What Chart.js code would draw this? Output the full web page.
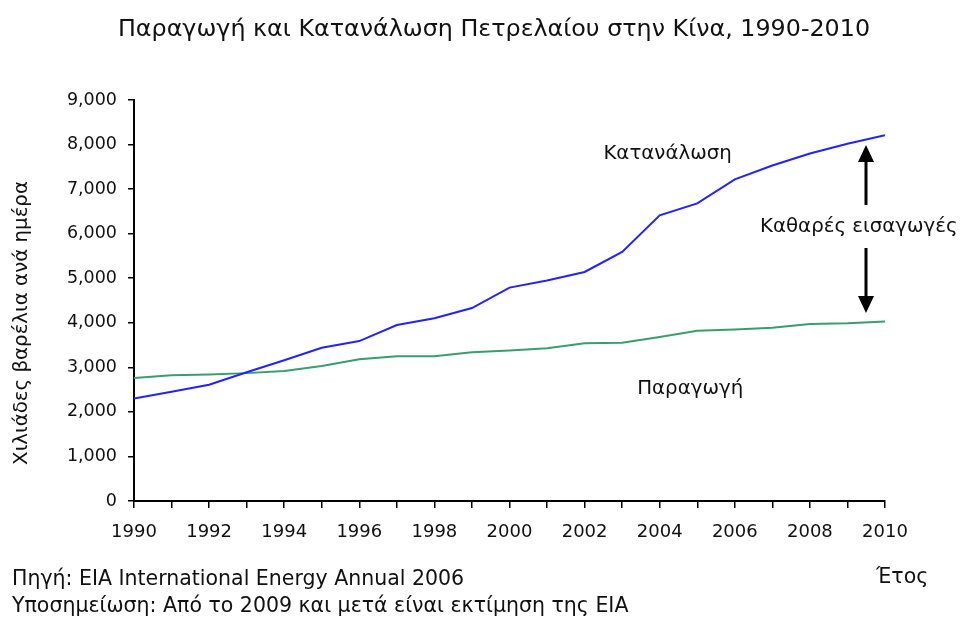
<!DOCTYPE html>
<html>
<head>
<meta charset="utf-8">
<script src="https://cdn.jsdelivr.net/npm/chart.js@4.4.1/dist/chart.umd.min.js"></script>
<style>
  html, body { margin: 0; padding: 0; background: #fff; }
  #wrap { width: 964px; height: 620px; }
</style>
</head>
<body>
<div id="wrap"><canvas id="oilChart" width="964" height="620"></canvas></div>
<script>
// years on the x axis
const years = [1990, 1991, 1992, 1993, 1994, 1995, 1996, 1997, 1998, 1999, 2000,
    2001, 2002, 2003, 2004, 2005, 2006, 2007, 2008, 2009, 2010];
// thousand barrels per day
const consumption = [2300, 2450, 2610, 2890, 3160, 3440, 3590, 3950, 4100, 4330, 4790,
    4950, 5140, 5590, 6410, 6680, 7220, 7530, 7800, 8020, 8210];
const production = [2760, 2820, 2840, 2870, 2920, 3030, 3180, 3250, 3250, 3340, 3380,
    3430, 3540, 3550, 3680, 3820, 3850, 3890, 3970, 3990, 4030];
const yTicks = [0, 1000, 2000, 3000, 4000, 5000, 6000, 7000, 8000, 9000];

const seriesColor = {
    blue: 'rgb(34, 34, 255)',
    green: 'rgb(56, 158, 108)'
}
const font = 'DejaVu Sans';

// titles, labels and the arrow, drawn on top of the chart
const textPlugin = {
    id: 'texts',
    afterDraw: function (chart) {
        const ctx = chart.ctx;
        const x = chart.scales.x, y = chart.scales.y;
        ctx.save();
        ctx.fillStyle = '#111';
        ctx.textBaseline = 'middle';

        ctx.font = '23.8px "' + font + '"';
        ctx.textAlign = 'center';
        ctx.fillText('Παραγωγή και Κατανάλωση Πετρελαίου στην Κίνα, 1990-2010', 494, 30);

        ctx.font = '19.8px "' + font + '"';
        ctx.textAlign = 'left';
        ctx.fillText('Κατανάλωση', x.getPixelForValue(2002.5), 154);
        ctx.fillText('Παραγωγή', x.getPixelForValue(2003.4), 389);
        ctx.fillText('Καθαρές εισαγωγές', 760, 227);

        // y axis title
        ctx.save();
        ctx.translate(22, 323);
        ctx.rotate(-Math.PI / 2);
        ctx.textAlign = 'center';
        ctx.fillText('Χιλιάδες βαρέλια ανά ημέρα', 0, 0);
        ctx.restore();

        // footer
        ctx.font = '20.5px "' + font + '"';
        ctx.textAlign = 'left';
        ctx.fillText('Πηγή: EIA International Energy Annual 2006', 12, 580);
        ctx.fillText('Υποσημείωση: Από το 2009 και μετά είναι εκτίμηση της EIA', 12, 607);
        ctx.fillText('Έτος', 876, 578);

        // double arrow between the two lines
        const ax = 866;
        const top = 145, upEnd = 205;
        const bottom = 313, downStart = 248;
        ctx.strokeStyle = '#000';
        ctx.fillStyle = '#000';
        ctx.lineWidth = 3;
        ctx.beginPath();
        ctx.moveTo(ax, upEnd); ctx.lineTo(ax, top + 12);
        ctx.moveTo(ax, downStart); ctx.lineTo(ax, bottom - 12);
        ctx.stroke();
        ctx.beginPath();
        ctx.moveTo(ax, top); ctx.lineTo(ax - 8, top + 17); ctx.lineTo(ax + 8, top + 17); ctx.closePath();
        ctx.moveTo(ax, bottom); ctx.lineTo(ax - 8, bottom - 17); ctx.lineTo(ax + 8, bottom - 17); ctx.closePath();
        ctx.fill();
        ctx.restore();
    }
};

new Chart(document.getElementById('oilChart'), {
    type: 'line',
    data: {
        datasets: [{
            label: 'Κατανάλωση',
            data: years.map((yr, i) => ({ x: yr, y: consumption[i] })),
            borderColor: seriesColor.blue,
            borderWidth: 2,
            pointRadius: 0,
            tension: 0
        }, {
            label: 'Παραγωγή',
            data: years.map((yr, i) => ({ x: yr, y: production[i] })),
            borderColor: seriesColor.green,
            borderWidth: 2,
            pointRadius: 0,
            tension: 0
        }]
    },
    options: {
        responsive: false,
        animation: false,
        layout: { padding: { top: 100, right: 79, left: 0, bottom: 0 } },
        plugins: {
            legend: { display: false },
            tooltip: { enabled: false }
        },
        scales: {
            x: {
                type: 'linear',
                min: 1990,
                max: 2010,
                afterFit: function (scale) { scale.height = 119; },
                afterBuildTicks: function (scale) {
                    scale.ticks = years.map(v => ({ value: v }));
                },
                border: { color: '#000', width: 2 },
                grid: { drawOnChartArea: false, color: '#000', tickLength: 7, lineWidth: 1.5 },
                ticks: {
                    color: '#111',
                    font: { family: font, size: 18 },
                    padding: 14,
                    maxRotation: 0,
                    autoSkip: false,
                    callback: v => (v % 2 === 0 ? String(v) : '')
                }
            },
            y: {
                min: 0,
                max: 9000,
                afterFit: function (scale) { scale.width = 134; },
                afterBuildTicks: function (scale) {
                    scale.ticks = yTicks.map(v => ({ value: v }));
                },
                border: { color: '#000', width: 2 },
                grid: { drawOnChartArea: false, color: '#000', tickLength: 6, lineWidth: 1.5 },
                ticks: {
                    color: '#111',
                    font: { family: font, size: 17.5 },
                    padding: 11,
                    callback: v => v.toLocaleString('en-US')
                }
            }
        }
    },
    plugins: [textPlugin]
});
</script>
</body>
</html>
